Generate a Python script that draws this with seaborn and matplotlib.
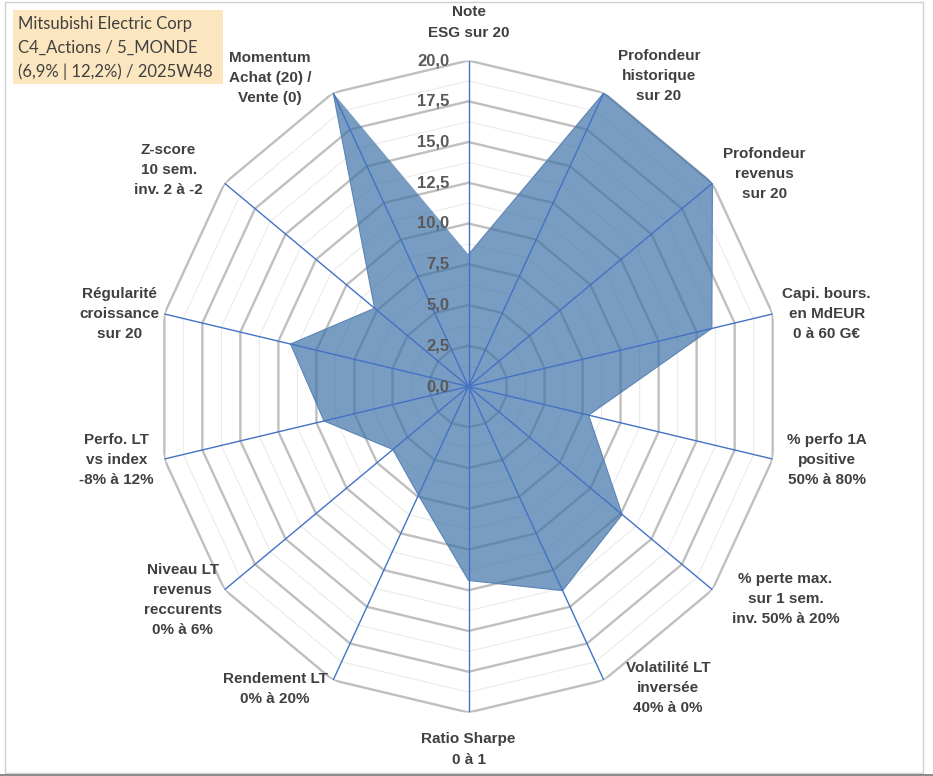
import numpy as np
import pandas as pd
import seaborn as sns
import matplotlib.pyplot as plt
from matplotlib.patches import Rectangle

# data
axis_labels = [
    "Note\nESG sur 20",
    "Profondeur\nhistorique\nsur 20",
    "Profondeur\nrevenus\nsur 20",
    "Capi. bours.\nen MdEUR\n0 à 60 G€",
    "% perfo 1A\npositive\n50% à 80%",
    "% perte max.\nsur 1 sem.\ninv. 50% à 20%",
    "Volatilité LT\ninversée\n40% à 0%",
    "Ratio Sharpe\n0 à 1",
    "Rendement LT\n0% à 20%",
    "Niveau LT\nrevenus\nreccurents\n0% à 6%",
    "Perfo. LT\nvs index\n-8% à 12%",
    "Régularité\ncroissance\nsur 20",
    "Z-score\n10 sem.\ninv. 2 à -2",
    "Momentum\nAchat (20) /\nVente (0)",
]
scores = [8.1, 20.0, 20.0, 16.0, 7.9, 12.6, 13.9, 11.9, 7.4, 6.2, 9.5, 11.7, 7.7, 20.0]
ring_ticks = [0, 2.5, 5, 7.5, 10, 12.5, 15, 17.5, 20]
title_lines = ["Mitsubishi Electric Corp", "C4_Actions / 5_MONDE", "(6,9% | 12,2%) / 2025W48"]

# label offsets from the outer vertex, in pixels (right, down)
label_offsets = [(0, -38), (55, -17), (52, -9), (54, 0), (54, 1), (73, 9), (64, 8),
                 (0, 37), (-58, 9), (-42, 10), (-48, 1), (-45, 0), (-56, -13), (-63, -15)]

spoke_color = "#4472C4"
major_color = "#BFBFBF"
minor_color = "#EBEBEB"
text_color = "#404040"
tick_color = "#595959"

sns.set_theme(style="white")
plt.rcParams['font.family'] = ['Liberation Sans', 'DejaVu Sans']

W, H = 933, 776
fig = plt.figure(figsize=(W / 100, H / 100), dpi=100)
fig.patch.set_facecolor("white")

cx, cy, rx, ry = 468.5, 386.5, 312, 326
ax = fig.add_axes([(cx - rx) / W, (H - cy - ry) / H, 2 * rx / W, 2 * ry / H], projection="polar")
ax.set_aspect("auto")
ax.set_theta_zero_location("N")
ax.set_theta_direction(-1)
ax.set_ylim(0, 20)
ax.grid(False)
ax.spines["polar"].set_visible(False)
ax.set_xticks([])
ax.set_yticks([])
ax.set_facecolor("none")

n = len(scores)
angles = np.linspace(0, 2 * np.pi, n, endpoint=False)
closed_angles = np.append(angles, angles[0])

# rings (major every 2.5, minor in between)
for r in np.arange(1.25, 20.01, 1.25):
    major = abs(r / 2.5 - round(r / 2.5)) < 1e-6
    ax.plot(closed_angles, [r] * (n + 1), color=major_color if major else minor_color,
            lw=1.7 if major else 0.8, zorder=1)

# filled data polygon
df = pd.DataFrame({"angle": closed_angles, "score": scores + [scores[0]]})
ax.fill(df["angle"], df["score"], color="#3A6EA5", alpha=0.68, lw=0, zorder=2)
sns.lineplot(data=df, x="angle", y="score", sort=False, ax=ax, color="#5A85B5", lw=0.8, zorder=3)
ax.set_xlabel("")
ax.set_ylabel("")

# spokes
for a in angles:
    ax.plot([a, a], [0, 20], color=spoke_color, lw=1.0, zorder=4)

# radial tick labels
for t in ring_ticks:
    ax.annotate(f"{t:.1f}".replace(".", ","), xy=(0, t), xytext=(-14, 0), textcoords="offset points",
                ha="right", va="center", fontsize=12, fontweight="bold", color=tick_color, zorder=5)

# axis labels
for a, lab, (ox, oy) in zip(angles, axis_labels, label_offsets):
    ax.annotate(lab, xy=(a, 20), xytext=(ox * 0.72, -oy * 0.72), textcoords="offset points",
                ha="center", va="center", fontsize=11, fontweight="bold", color=text_color,
                linespacing=1.55, annotation_clip=False)

# title box
fig.add_artist(Rectangle((13 / W, (H - 84) / H), 210 / W, 74 / H, transform=fig.transFigure,
                         facecolor="#FCE6C0", edgecolor="none", zorder=0))
for i, line in enumerate(title_lines):
    fig.text(18 / W, 1 - (24 + i * 24) / H, line, ha="left", va="center", fontsize=12,
             color=text_color, family=["Lato", "DejaVu Sans"])

# chart border
fig.add_artist(Rectangle((5 / W, 3 / H), 918 / W, 771 / H, transform=fig.transFigure,
                         fill=False, edgecolor="#D0D0D0", lw=1))
fig.add_artist(Rectangle((0, 0.5 / H), 1, 1.5 / H, transform=fig.transFigure,
                         facecolor="#8C8C8C", edgecolor="none"))

fig.savefig("out.png", dpi=100)
